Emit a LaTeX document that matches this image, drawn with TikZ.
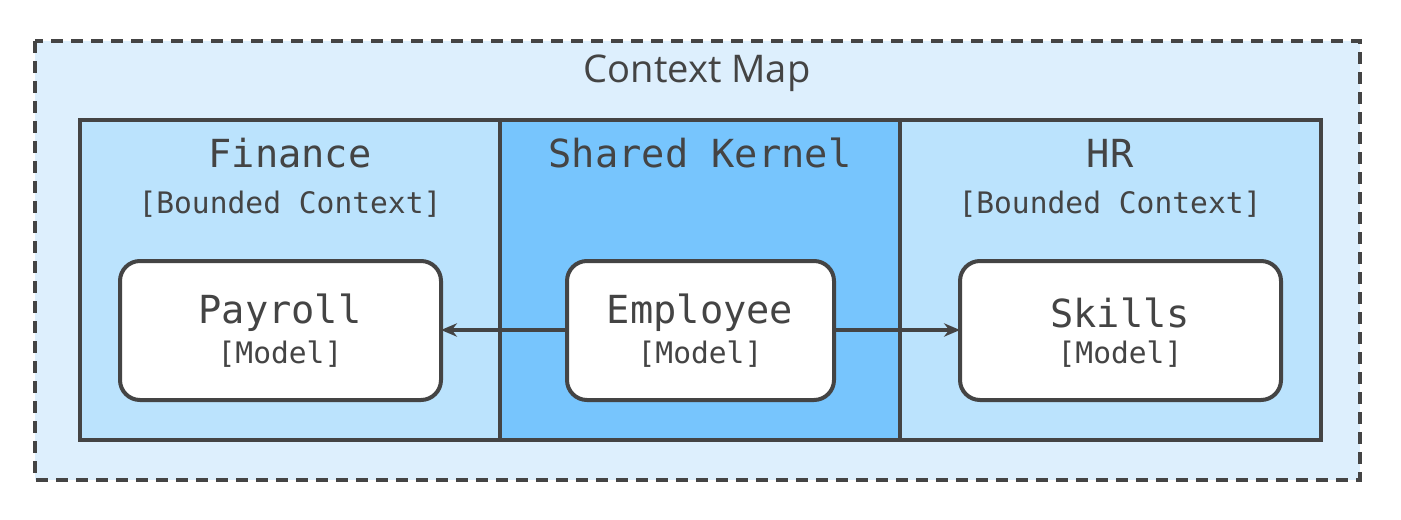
\documentclass[tikz,border=0pt]{standalone}
\usepackage{fontspec}
\setmainfont{Open Sans}
\setmonofont{DejaVu Sans Mono}
\usetikzlibrary{arrows.meta}
\definecolor{edge}{HTML}{444444}
\definecolor{outerbg}{HTML}{DDEFFD}
\definecolor{ctxbg}{HTML}{BBE3FD}
\definecolor{kernbg}{HTML}{77C5FD}
\begin{document}
\begin{tikzpicture}[x=0.75pt,y=-0.75pt,
  ctx/.style={draw=edge,line width=3pt},
  model/.style={draw=edge,fill=white,line width=3pt,rounded corners=15pt},
  ttl/.style={text=edge,font=\ttfamily\fontsize{29}{34}\selectfont},
  sub/.style={text=edge,font=\ttfamily\fontsize{22.2}{26}\selectfont},
  arr/.style={draw=edge,line width=3pt,-{Stealth[length=12pt,width=10pt]}}]
\useasboundingbox (0,0) rectangle (1401,520);
\draw[fill=outerbg,draw=edge,line width=3pt,dash pattern=on 9pt off 6pt] (35,41) rectangle (1360,480);
\node[text=edge,font=\fontsize{28.6}{32}\selectfont] (title) at (697,73) {Context Map};
\draw[ctx,fill=ctxbg] (80,120) rectangle (500,440);
\draw[ctx,fill=kernbg] (500,120) rectangle (900,440);
\draw[ctx,fill=ctxbg] (900,120) rectangle (1321,440);
\node[ttl] (fin) at (290,153) {Finance};
\node[sub] (finsub) at (290,204) {[Bounded Context]};
\node[ttl] (sk) at (700,153) {Shared Kernel};
\node[ttl] (hr) at (1110,153) {HR};
\node[sub] (hrsub) at (1110,204) {[Bounded Context]};
\draw[model] (120,261) rectangle (441,400);
\draw[model] (567,261) rectangle (834,400);
\draw[model] (960,261) rectangle (1281,400);
\coordinate (payE) at (441,330);
\coordinate (empW) at (567,330);
\coordinate (empE) at (834,330);
\coordinate (skW) at (960,330);
\node[ttl] (pay) at (280,313) {Payroll};
\node[sub] (paym) at (280,354) {[Model]};
\node[ttl] (emp) at (700,313) {Employee};
\node[sub] (empm) at (700,354) {[Model]};
\node[ttl] (skl) at (1120,313) {Skills};
\node[sub] (sklm) at (1120,354) {[Model]};
\draw[arr] (empW) -- (payE);
\draw[arr] (empE) -- (skW);
\end{tikzpicture}
\end{document}
